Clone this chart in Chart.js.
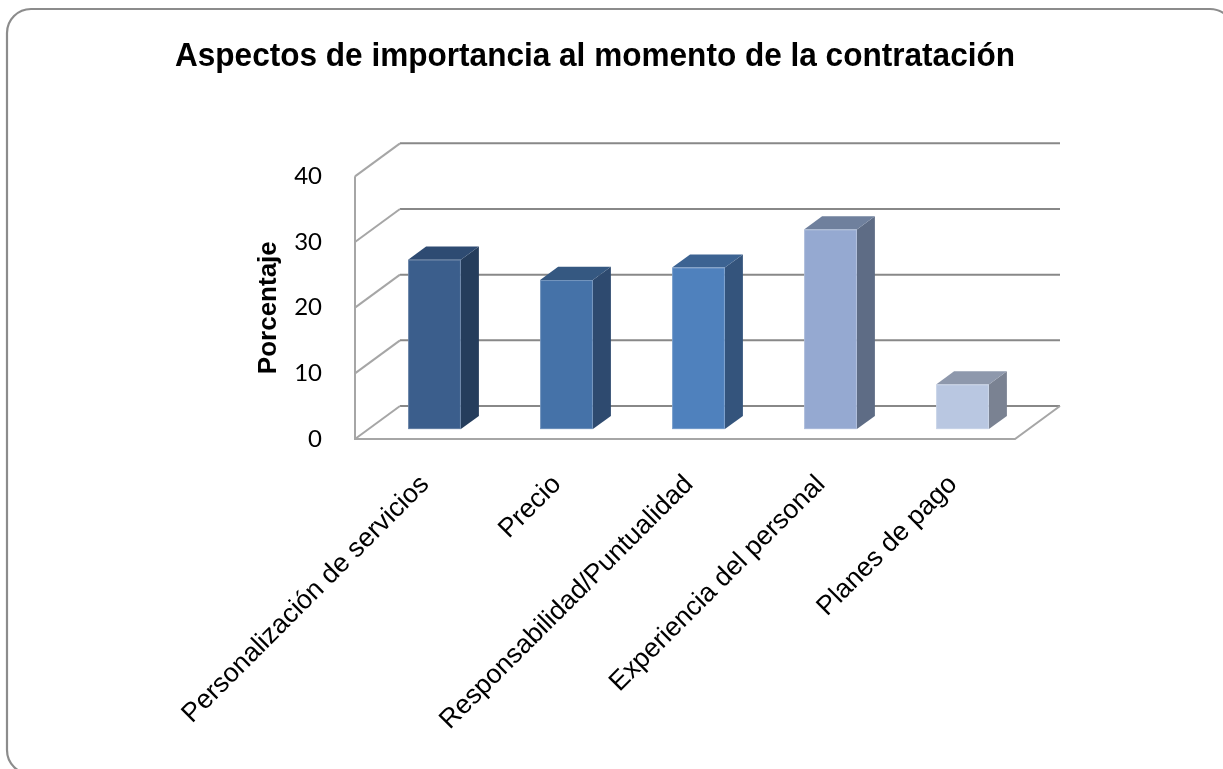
<!DOCTYPE html>
<html lang="es">
<head>
<meta charset="utf-8">
<title>Aspectos de importancia al momento de la contratación</title>
<script src="https://cdn.jsdelivr.net/npm/chart.js@4.4.1/dist/chart.umd.min.js"></script>
<style>
html,body{margin:0;padding:0;background:#fff;}
#wrap{width:1223px;height:769px;}
canvas{display:block;}
</style>
</head>
<body>
<div id="wrap"><canvas id="grafico" width="1223" height="769"></canvas></div>
<script>
const categorias=['Personalización de servicios','Precio','Responsabilidad/Puntualidad','Experiencia del personal','Planes de pago'];
const porcentajes=[25.8,22.7,24.6,30.4,6.8];
const ticksY=[0,10,20,30,40];
const coloresFrente=['#3b5e8c','#4572a8','#4f81bd','#95a9d1','#b9c7e1'];
const coloresLado=['#253d5c','#2e4a6f','#34547c','#5e6c85','#7a8292'];
const coloresTapa=['#2e4b72','#355881','#3c6392','#6f809d','#8e98ac'];

// profundidad de la caja 3D (pared del fondo) y posicion de las barras dentro
const FONDO_X=45, FONDO_Y=-33;
const BARRA_INI=0.3, BARRA_PROF=0.4;
const ARIAL='"Liberation Sans", Arial, sans-serif';

function poligono(c,pts,color){
 c.beginPath();
 pts.forEach((p,i)=>i?c.lineTo(p[0],p[1]):c.moveTo(p[0],p[1]));
 c.closePath();
 c.fillStyle=color;
 c.fill();
}

const caja3d={
 id:'caja3d',
 beforeDraw(chart){
  const c=chart.ctx;
  c.save();
  c.fillStyle='#fff';
  c.fillRect(0,0,chart.width,chart.height);
  c.strokeStyle='#8c8c8c';
  c.lineWidth=2.2;
  c.beginPath();
  c.roundRect(7,9,1227,765,24);
  c.stroke();
  c.restore();
 },
 beforeDatasetsDraw(chart){
  const {ctx:c,chartArea:a,scales:{y}}=chart;
  c.save();
  c.lineWidth=2;
  // lineas de division en la pared del fondo
  c.strokeStyle='#888';
  y.ticks.forEach(t=>{
   const py=y.getPixelForValue(t.value)+FONDO_Y;
   c.beginPath();
   c.moveTo(a.left+FONDO_X,py);
   c.lineTo(a.right+FONDO_X,py);
   c.stroke();
  });
  // pared lateral y piso
  c.strokeStyle='#a6a6a6';
  y.ticks.forEach(t=>{
   const py=y.getPixelForValue(t.value);
   c.beginPath();
   c.moveTo(a.left,py);
   c.lineTo(a.left+FONDO_X,py+FONDO_Y);
   c.stroke();
  });
  c.beginPath();
  c.moveTo(a.left,y.getPixelForValue(y.max));
  c.lineTo(a.left,a.bottom);
  c.lineTo(a.right,a.bottom);
  c.lineTo(a.right+FONDO_X,a.bottom+FONDO_Y);
  c.stroke();
  c.restore();
 },
 afterDatasetsDraw(chart){
  const c=chart.ctx, meta=chart.getDatasetMeta(0);
  const dx=FONDO_X*BARRA_INI, dy=FONDO_Y*BARRA_INI;
  const px=FONDO_X*BARRA_PROF, py=FONDO_Y*BARRA_PROF;
  c.save();
  meta.data.forEach((b,i)=>{
   const {x,y,base,width}=b.getProps(['x','y','base','width'],true);
   const x0=x-width/2+dx, x1=x+width/2+dx, y0=y+dy, y1=base+dy;
   poligono(c,[[x1,y0],[x1+px,y0+py],[x1+px,y1+py],[x1,y1]],coloresLado[i]);
   poligono(c,[[x0,y0],[x0+px,y0+py],[x1+px,y0+py],[x1,y0]],coloresTapa[i]);
   c.fillStyle=coloresFrente[i];
   c.fillRect(x0,y0,x1-x0,y1-y0);
   c.strokeStyle='rgba(255,255,255,0.22)';
   c.lineWidth=1;
   c.strokeRect(x0+0.5,y0+0.5,x1-x0-1,y1-y0-1);
  });
  c.restore();
 }
};

new Chart(document.getElementById('grafico'),{
 type:'bar',
 data:{
  labels:categorias,
  datasets:[{
   label:'Porcentaje',
   data:porcentajes,
   backgroundColor:'rgba(0,0,0,0)',
   borderWidth:0,
   barPercentage:0.4,
   categoryPercentage:1
  }]
 },
 options:{
  responsive:false,
  animation:false,
  layout:{padding:{left:175,right:208,top:0,bottom:0}},
  plugins:{
   legend:{display:false},
   tooltip:{enabled:false},
   title:{
    display:true,
    text:'Aspectos de importancia al momento de la contratación',
    color:'#000',
    font:{family:ARIAL,size:32.8,weight:'bold'},
    padding:{top:37,bottom:100}
   }
  },
  scales:{
   x:{
    grid:{display:false},
    border:{display:false},
    ticks:{autoSkip:false,minRotation:45,maxRotation:45,padding:22,labelOffset:4,color:'#000',font:{family:ARIAL,size:26.7}},
    afterFit:s=>{s.height=330;}
   },
   y:{
    min:0,max:40,
    grid:{display:false},
    border:{display:false},
    afterBuildTicks:s=>{s.ticks=ticksY.map(v=>({value:v}));},
    ticks:{padding:25,color:'#000',font:{family:'Lato, "Open Sans", sans-serif',size:24}},
    title:{display:true,text:'Porcentaje',color:'#000',font:{family:ARIAL,size:26,weight:'bold'},padding:{top:78,bottom:0}},
    afterFit:s=>{s.width=180;}
   }
  }
 },
 plugins:[caja3d]
});
</script>
</body>
</html>
